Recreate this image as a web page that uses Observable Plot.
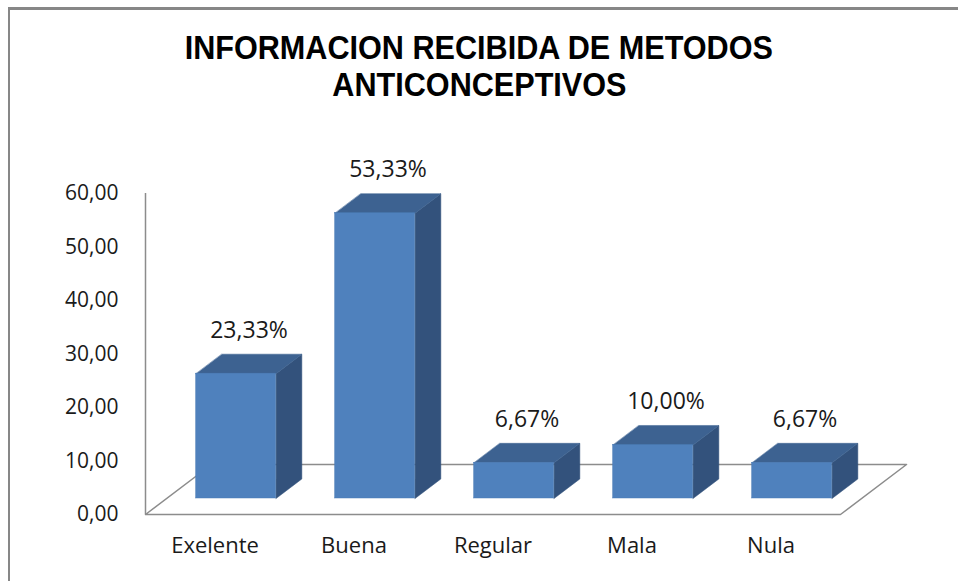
<!DOCTYPE html>
<html>
<head>
<meta charset="utf-8">
<script src="https://cdn.jsdelivr.net/npm/d3@7"></script>
<script src="https://cdn.jsdelivr.net/npm/@observablehq/plot@0.6"></script>
<style>
  html, body { margin: 0; padding: 0; background: #fff; overflow: hidden; }
  #wrap { position: relative; width: 958px; height: 581px; overflow: hidden; }
  #frame { position: absolute; left: 8px; top: 7px; width: 1200px; height: 1200px;
           border-left: 2px solid #878787; border-top: 3px solid #878787; box-sizing: border-box; }
  #title { position: absolute; left: 0; top: 29px; width: 958px; text-align: center;
           font-family: "Liberation Sans", Arial, sans-serif; font-weight: bold; font-size: 34px;
           line-height: 37px; color: #000; }
  #title span { display: inline-block; transform: scaleX(0.9); transform-origin: center; white-space: nowrap; }
  #chart { position: absolute; left: 0; top: 0; }
</style>
</head>
<body>
<div id="wrap">
  <div id="frame"></div>
  <div id="chart"></div>
  <div id="title"><span>INFORMACION RECIBIDA DE METODOS</span><br><span>ANTICONCEPTIVOS</span></div>
</div>
<script>
// ---- data ----
const categories = ["Exelente", "Buena", "Regular", "Mala", "Nula"];
const values = [23.33, 53.33, 6.67, 10.00, 6.67];
const valueLabels = ["23,33%", "53,33%", "6,67%", "10,00%", "6,67%"];
const yTicks = [0, 10, 20, 30, 40, 50, 60];

// ---- 3D projection (in scale units) ----
const depthX = 0.475;   // category units for full floor depth
const depthY = 9.35;    // value units for full floor depth
const d1 = 0.32, d2 = 0.71; // bar front/back depth fraction
const half = 0.2875;    // half bar width in category units

const bars = categories.map((c, i) => ({c, i, v: values[i], label: valueLabels[i]}));

const front = bars.map(b => ({
  x1: b.i - half + d1 * depthX, x2: b.i + half + d1 * depthX,
  y1: d1 * depthY, y2: b.v + d1 * depthY
}));

const topFace = bars.flatMap(b => [
  [b.i - half + d1 * depthX, b.v + d1 * depthY],
  [b.i + half + d1 * depthX, b.v + d1 * depthY],
  [b.i + half + d2 * depthX, b.v + d2 * depthY],
  [b.i - half + d2 * depthX, b.v + d2 * depthY]
].map(([x, y]) => ({x, y, z: b.c})));

const sideFace = bars.flatMap(b => [
  [b.i + half + d1 * depthX, d1 * depthY],
  [b.i + half + d2 * depthX, d2 * depthY],
  [b.i + half + d2 * depthX, b.v + d2 * depthY],
  [b.i + half + d1 * depthX, b.v + d1 * depthY]
].map(([x, y]) => ({x, y, z: b.c})));

const n = categories.length;
const floor = [
  {x: -0.5, y: 0}, {x: n - 0.5, y: 0},
  {x: n - 0.5 + depthX, y: depthY}, {x: -0.5 + depthX, y: depthY}
];

const fmt = v => v.toFixed(2).replace(".", ",");

const plot = Plot.plot({
  width: 958,
  height: 581,
  marginLeft: 145,
  marginRight: 118,
  marginTop: 193,
  marginBottom: 67,
  style: {background: "transparent", overflow: "visible"},
  x: {type: "linear", domain: [-0.5, n - 0.5]},
  y: {domain: [0, 60]},
  marks: [
    Plot.line(floor, {x: "x", y: "y", curve: "linear-closed", stroke: "#8c8c8c", strokeWidth: 1.5}),
    Plot.ruleX([-0.5], {y1: 0, y2: 60, stroke: "#8c8c8c", strokeWidth: 1.5}),
    Plot.line(sideFace, {x: "x", y: "y", z: "z", curve: "linear-closed", fill: "#33527c", stroke: "#33527c", strokeWidth: 0.5}),
    Plot.line(topFace, {x: "x", y: "y", z: "z", curve: "linear-closed", fill: "#3d6291", stroke: "#3d6291", strokeWidth: 0.5}),
    Plot.rect(front, {x1: "x1", x2: "x2", y1: "y1", y2: "y2", fill: "#4f81bd", stroke: "#4a7ab4", strokeWidth: 0.5}),
    Plot.text(bars, {
      x: b => b.i + (d1 + d2) / 2 * depthX,
      y: b => b.v + d2 * depthY,
      text: "label", dy: -24,
      fontSize: 23, fontFamily: "Open Sans", fill: "#1a1a1a"
    }),
    Plot.axisY({
      ticks: yTicks, tickSize: 0, tickPadding: 27, tickFormat: fmt,
      fontSize: 21, fontFamily: "Open Sans", color: "#1a1a1a", label: null
    }),
    Plot.axisX({
      ticks: d3.range(n), tickSize: 0, tickPadding: 23, tickFormat: i => categories[i],
      fontSize: 22, fontFamily: "Open Sans", color: "#1a1a1a", label: null
    })
  ]
});
document.getElementById("chart").appendChild(plot);
</script>
</body>
</html>
